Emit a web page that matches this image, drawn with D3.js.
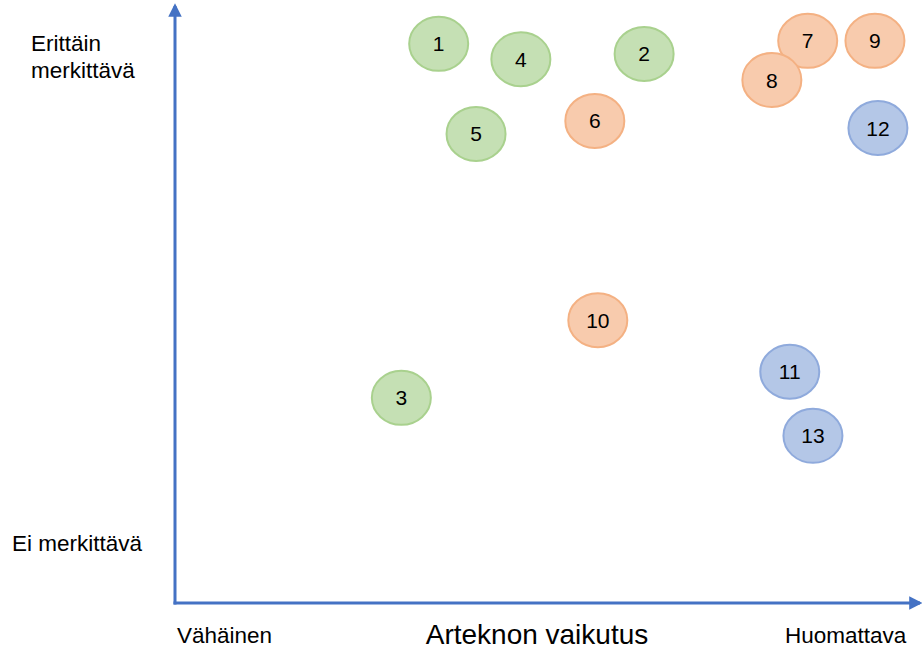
<!DOCTYPE html>
<html>
<head>
<meta charset="utf-8">
<script src="https://cdn.jsdelivr.net/npm/d3@7"></script>
<style>
  body { margin: 0; background: #fff; }
  svg { display: block; font-family: "Liberation Sans", Arial, sans-serif; }
</style>
</head>
<body>
<svg id="chart" width="922" height="649"></svg>
<script>
// data
const ids = [1, 2, 3, 4, 5, 6, 7, 8, 9, 10, 11, 12, 13];
const impact = [35.3, 62.8, 30.3, 46.3, 40.3, 56.2, 84.7, 79.9, 93.7, 56.6, 82.3, 94.1, 85.4];
const significance = [94.3, 92.6, 34.6, 91.7, 79.1, 81.3, 94.8, 88.2, 94.8, 47.7, 39.0, 80.1, 28.2];
const groups = ['g', 'g', 'g', 'g', 'g', 'o', 'o', 'o', 'o', 'o', 'b', 'b', 'b'];
const xLabels = ['Vähäinen', 'Huomattava'];
const yLabels = [['Erittäin', 'merkittävä'], ['Ei merkittävä']];
const xTitle = 'Arteknon vaikutus';

const fills = {g: '#c5e0b4', o: '#f8cbad', b: '#b4c7e7'};
const strokes = {g: '#a9d18e', o: '#f4b183', b: '#8faadc'};
const axisColor = '#4472c4';

const svg = d3.select('#chart');
const x = d3.scaleLinear().domain([0, 100]).range([175, 922]);
const y = d3.scaleLinear().domain([0, 100]).range([603, 10]);

// arrow heads
const defs = svg.append('defs');
defs.append('marker').attr('id', 'arr')
  .attr('viewBox', '0 0 10 10').attr('refX', 8).attr('refY', 5)
  .attr('markerWidth', 4.5).attr('markerHeight', 4.5).attr('orient', 'auto')
  .append('path').attr('d', 'M0,0L10,5L0,10Z').attr('fill', axisColor);

svg.append('line')
  .attr('x1', x(0)).attr('x2', x(0)).attr('y1', y(0) + 1.5).attr('y2', 6)
  .attr('stroke', axisColor).attr('stroke-width', 3).attr('marker-end', 'url(#arr)');
svg.append('line')
  .attr('x1', x(0) - 1.5).attr('x2', 920).attr('y1', y(0)).attr('y2', y(0))
  .attr('stroke', axisColor).attr('stroke-width', 3).attr('marker-end', 'url(#arr)');

// bubbles
const pts = ids.map((id, i) => ({id: id, x: impact[i], y: significance[i], g: groups[i]}));
const node = svg.append('g').selectAll('g').data(pts).enter().append('g')
  .attr('transform', d => 'translate(' + x(d.x) + ',' + y(d.y) + ')');
node.append('ellipse').attr('rx', 29.5).attr('ry', 27)
  .attr('fill', d => fills[d.g]).attr('stroke', d => strokes[d.g]).attr('stroke-width', 2);
node.append('text').text(d => d.id)
  .attr('text-anchor', 'middle').attr('dy', '0.36em')
  .style('font-size', '21px').attr('fill', '#000');

// axis labels
const lab = svg.append('g').style('font-size', '22.5px').attr('fill', '#000');
lab.append('text').attr('x', 31).attr('y', 51).text(yLabels[0][0]);
lab.append('text').attr('x', 31).attr('y', 78).text(yLabels[0][1]);
lab.append('text').attr('x', 12).attr('y', 551).text(yLabels[1][0]);
lab.append('text').attr('x', 177).attr('y', 643).text(xLabels[0]);
lab.append('text').attr('x', 785).attr('y', 643).text(xLabels[1]);
svg.append('text').attr('x', 537).attr('y', 644).attr('text-anchor', 'middle')
  .style('font-size', '28px').text(xTitle);
</script>
</body>
</html>
